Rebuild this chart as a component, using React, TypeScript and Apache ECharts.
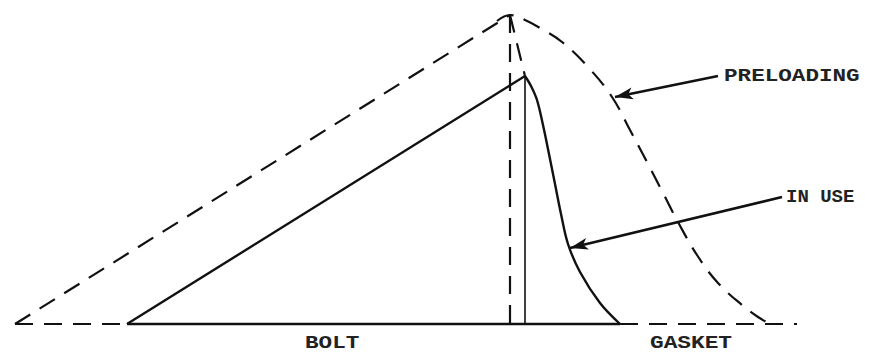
import React, { useEffect, useRef } from "react";
import * as echarts from "echarts";

// x: deformation units, y: load units (baseline = 0)
const preloadRise = [[15, 0], [510, 309]];
const preloadVertical = [[510, 309], [510, 0]];
const preloadCurve = [
  [497, 303], [510, 309], [525, 304], [540, 296], [562, 282], [588, 257], [612, 227],
  [630, 194], [647, 162], [663, 131], [678, 102], [697, 69], [718, 41],
  [742, 19], [758, 7], [770, 0],
];
const preloadLink = [[510, 309], [525, 248]];
const bedLeftDashed = [[15, 0], [127, 0]];
const bedRightDashed = [[620, 0], [797, 0]];
const bedSolid = [[127, 0], [620, 0]];
const inUseRise = [[127, 0], [525, 248]];
const inUseVertical = [[525, 248], [525, 0]];
const inUseCurve = [
  [525, 248], [531, 238], [537, 224], [543, 199], [549, 170], [555, 140],
  [561, 110], [568, 80], [580, 52], [600, 21], [620, 0],
];
const preloadArrow = [[718, 248], [615, 227]];
const inUseArrow = [[782, 127], [570, 76]];

const labels = [
  { text: "PRELOADING", x: 724, y: 76, sx: 1.19 },
  { text: "IN USE", x: 786, y: 197, sx: 1.0 },
  { text: "BOLT", x: 305, y: 343, sx: 1.19 },
  { text: "GASKET", x: 650, y: 343, sx: 1.2 },
];

const INK = "#111";

export default function App() {
  const ref = useRef<HTMLDivElement>(null);
  useEffect(() => {
    document.body.style.margin = "0";
    const chart = echarts.init(ref.current!, null, { renderer: "svg" });
    const dashed = (data: number[][], smooth = false) => ({
      type: "line",
      data,
      smooth: smooth ? 0.4 : false,
      symbol: "none",
      lineStyle: { color: INK, width: 2.2, type: [18, 11] },
      silent: true,
    });
    const solid = (data: number[][], smooth = false, extra: any = {}) => ({
      type: "line",
      data,
      smooth: smooth ? 0.35 : false,
      symbol: "none",
      lineStyle: { color: INK, width: 2.4, type: "solid" },
      silent: true,
      ...extra,
    });
    const arrow = (pts: number[][]) => [
      { coord: pts[0], symbol: "none" },
      { coord: pts[1], symbol: "arrow", symbolSize: [9, 18] },
    ];
    chart.setOption({
      animation: false,
      backgroundColor: "#fff",
      grid: { left: 0, right: 0, top: 0, bottom: 0, containLabel: false },
      xAxis: { type: "value", min: 0, max: 873, show: false },
      yAxis: { type: "value", min: -29, max: 324, show: false },
      series: [
        dashed(preloadRise),
        dashed(preloadVertical),
        dashed(preloadCurve, true),
        dashed(preloadLink),
        dashed(bedLeftDashed),
        dashed(bedRightDashed),
        solid(inUseRise),
        solid(inUseVertical, false, { lineStyle: { color: INK, width: 1.6 } }),
        solid(inUseCurve, true),
        solid(bedSolid, false, {
          markLine: {
            silent: true,
            animation: false,
            label: { show: false },
            lineStyle: { color: INK, width: 2.6, type: "solid" },
            symbol: ["none", "arrow"],
            data: [arrow(preloadArrow), arrow(inUseArrow)],
          },
        }),
      ],
      graphic: labels.map((l) => ({
        type: "text",
        x: l.x,
        y: l.y,
        scaleX: l.sx,
        silent: true,
        style: {
          text: l.text,
          fill: "#222",
          font: "bold 19px 'Liberation Mono', 'DejaVu Sans Mono', monospace",
          textVerticalAlign: "middle",
          verticalAlign: "middle",
        },
      })),
    });
    return () => chart.dispose();
  }, []);
  return <div ref={ref} style={{ width: 873, height: 353 }} />;
}
